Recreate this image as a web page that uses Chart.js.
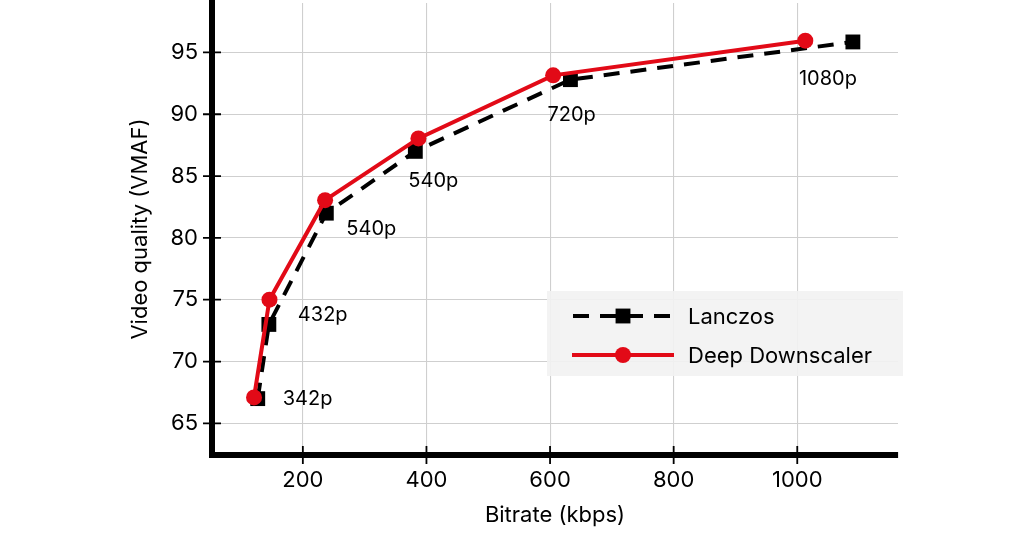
<!DOCTYPE html>
<html>
<head>
<meta charset="utf-8">
<script src="https://cdn.jsdelivr.net/npm/chart.js@4.4.1/dist/chart.umd.min.js"></script>
<style>
  html, body { margin: 0; padding: 0; background: #ffffff; }
  #wrap { width: 1024px; height: 535px; }
</style>
</head>
<body>
<div id="wrap"><canvas id="c" width="1024" height="535"></canvas></div>
<script>
// ---- data ----
const lanczosBitrate = [127, 145, 238, 382, 633, 1090];
const lanczosVmaf    = [67.0, 73.0, 82.0, 87.0, 92.8, 95.85];
const deepBitrate    = [121, 146, 236, 387, 605, 1013];
const deepVmaf       = [67.1, 75.0, 83.05, 88.05, 93.15, 95.95];
const resolutionLabels = ['342p', '432p', '540p', '540p', '720p', '1080p'];
const xTickValues = [200, 400, 600, 800, 1000];
const yTickValues = [65, 70, 75, 80, 85, 90, 95];
const seriesNames = ['Lanczos', 'Deep Downscaler'];
const xTitle = 'Bitrate (kbps)';
const yTitle = 'Video quality (VMAF)';

// ---- styles ----
const FONT = 'Inter, "Noto Sans", "DejaVu Sans", sans-serif';
const RED = '#e20a17';
const BLACK = '#000000';
const GRID = '#cfcfcf';
const labelOffsets = [[25, 0], [29, -9], [20, 16], [-7, 30], [-23, 35], [-54, 37]];

const toPts = (xs, ys) => xs.map((x, i) => ({x: x, y: ys[i]}));

const crossTicks = {
  id: 'crossTicks',
  afterDraw(chart) {
    const ctx = chart.ctx, ca = chart.chartArea;
    const sx = chart.scales.x, sy = chart.scales.y;
    ctx.save();
    ctx.strokeStyle = BLACK;
    ctx.lineWidth = 1.8;
    ctx.beginPath();
    xTickValues.forEach(v => {
      const px = sx.getPixelForValue(v);
      ctx.moveTo(px, ca.bottom - 9); ctx.lineTo(px, ca.bottom + 9);
    });
    yTickValues.forEach(v => {
      const py = sy.getPixelForValue(v);
      ctx.moveTo(ca.left - 9, py); ctx.lineTo(ca.left + 9, py);
    });
    ctx.stroke();
    ctx.fillStyle = BLACK;
    ctx.fillRect(ca.left - 3, ca.bottom - 3, 6, 6);
    ctx.restore();
  }
};

const pointLabels = {
  id: 'pointLabels',
  afterDatasetsDraw(chart) {
    const ctx = chart.ctx;
    const meta = chart.getDatasetMeta(1); // Lanczos
    ctx.save();
    ctx.font = '20px ' + FONT;
    ctx.fillStyle = BLACK;
    ctx.textAlign = 'left';
    ctx.textBaseline = 'middle';
    meta.data.forEach((el, i) => {
      const o = labelOffsets[i];
      ctx.fillText(resolutionLabels[i], el.x + o[0], el.y + o[1]);
    });
    ctx.restore();
  }
};

const boxLegend = {
  id: 'boxLegend',
  afterDraw(chart) {
    const ctx = chart.ctx;
    const bx = 547, by = 291, bw = 356, bh = 85;
    ctx.save();
    ctx.fillStyle = 'rgba(242,242,242,0.9)';
    ctx.fillRect(bx, by, bw, bh);
    const rows = [
      {ds: chart.data.datasets[1], y: 316},
      {ds: chart.data.datasets[0], y: 355}
    ];
    const x0 = 572, x1 = 674, xm = 623;
    rows.forEach(r => {
      const ds = r.ds;
      ctx.strokeStyle = ds.borderColor;
      ctx.lineWidth = ds.borderWidth;
      ctx.lineCap = 'butt';
      ctx.setLineDash(ds.borderDash || []);
      ctx.lineDashOffset = ds.borderDash ? -1 : 0;
      ctx.beginPath();
      ctx.moveTo(x0, r.y); ctx.lineTo(x1, r.y);
      ctx.stroke();
      ctx.setLineDash([]);
      ctx.fillStyle = ds.pointBackgroundColor;
      if (ds.pointStyle === 'rect') {
        const s = ds.pointRadius * Math.SQRT1_2;
        ctx.fillRect(xm - s, r.y - s, 2 * s, 2 * s);
      } else {
        ctx.beginPath();
        ctx.arc(xm, r.y, ds.pointRadius, 0, Math.PI * 2);
        ctx.fill();
      }
      ctx.fillStyle = BLACK;
      ctx.font = '22px ' + FONT;
      ctx.textAlign = 'left';
      ctx.textBaseline = 'middle';
      ctx.fillText(ds.label, 688, r.y + 1);
    });
    ctx.restore();
  }
};

new Chart(document.getElementById('c'), {
  type: 'line',
  data: {
    datasets: [
      {
        label: seriesNames[1],
        data: toPts(deepBitrate, deepVmaf),
        borderColor: RED,
        backgroundColor: RED,
        pointBackgroundColor: RED,
        pointBorderWidth: 0,
        borderWidth: 4,
        pointStyle: 'circle',
        pointRadius: 8,
        tension: 0,
        fill: false
      },
      {
        label: seriesNames[0],
        data: toPts(lanczosBitrate, lanczosVmaf),
        borderColor: BLACK,
        backgroundColor: BLACK,
        pointBackgroundColor: BLACK,
        pointBorderWidth: 0,
        borderWidth: 4,
        borderDash: [16, 11],
        pointStyle: 'rect',
        pointRadius: 10.5,
        tension: 0,
        fill: false
      }
    ]
  },
  options: {
    responsive: false,
    animation: false,
    devicePixelRatio: 1,
    layout: { autoPadding: false, padding: { left: 0, right: 126, top: 3, bottom: 0 } },
    plugins: { legend: { display: false }, tooltip: { enabled: false } },
    elements: { line: { borderCapStyle: 'butt' } },
    scales: {
      x: {
        type: 'linear',
        min: 53, max: 1163,
        afterBuildTicks: s => { s.ticks = xTickValues.map(v => ({value: v})); },
        afterFit: s => { s.height = 80; s.paddingLeft = 0; s.paddingRight = 0; },
        grid: { color: GRID, lineWidth: 1.1, drawTicks: false },
        border: { display: true, color: BLACK, width: 6 },
        ticks: { color: BLACK, font: { family: FONT, size: 22 }, padding: 12, maxRotation: 0,
                 callback: v => String(v) },
        title: { display: true, text: xTitle, color: BLACK, font: { family: FONT, size: 22 }, padding: { top: 0, bottom: 6 } }
      },
      y: {
        type: 'linear',
        min: 62.44, max: 99,
        afterBuildTicks: s => { s.ticks = yTickValues.map(v => ({value: v})); },
        afterFit: s => { s.width = 212; s.paddingTop = 0; s.paddingBottom = 0; },
        grid: { color: GRID, lineWidth: 1.1, drawTicks: false },
        border: { display: true, color: BLACK, width: 6 },
        ticks: { color: BLACK, font: { family: FONT, size: 22 }, padding: 14,
                 callback: v => String(v) },
        title: { display: true, text: yTitle, color: BLACK, font: { family: FONT, size: 22 }, padding: { top: 127, bottom: 0 } }
      }
    }
  },
  plugins: [crossTicks, pointLabels, boxLegend]
});
</script>
</body>
</html>
